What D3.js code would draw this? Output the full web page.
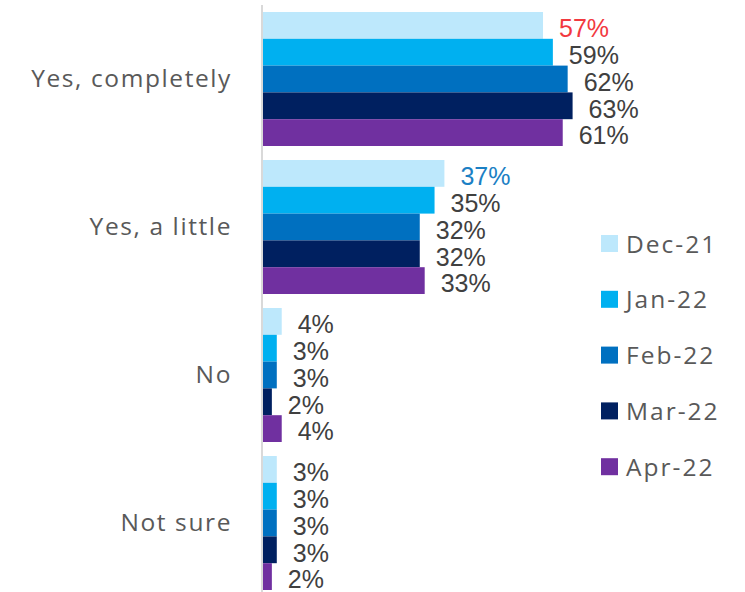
<!DOCTYPE html>
<html>
<head>
<meta charset="utf-8">
<script src="https://cdn.jsdelivr.net/npm/d3@7/dist/d3.min.js"></script>
<style>
  html, body { margin: 0; padding: 0; background: #fff; }
  svg { display: block; }
</style>
</head>
<body>
<svg id="chart" width="745" height="592"></svg>
<script>
// Survey answers and monthly waves
const categories = ["Yes, completely", "Yes, a little", "No", "Not sure"];
const months = ["Dec-21", "Jan-22", "Feb-22", "Mar-22", "Apr-22"];
const dec21 = [57, 37, 4, 3];
const jan22 = [59, 35, 3, 3];
const feb22 = [62, 32, 3, 3];
const mar22 = [63, 32, 2, 3];
const apr22 = [61, 33, 4, 2];
const seriesValues = [dec21, jan22, feb22, mar22, apr22];
const colors = ["#BDE8FC", "#00B0F0", "#0070C0", "#002060", "#7030A0"];

// Highlighted value labels: [category index, month index, colour]
const highlights = [[0, 0, "#F2393F"], [1, 0, "#1B80C4"]];

const svg = d3.select("#chart");
const axisX = 262;

const y0 = d3.scaleBand().domain(categories).range([5, 597]).paddingInner(14 / 148).paddingOuter(7 / 148);
const y1 = d3.scaleBand().domain(months).range([0, y0.bandwidth()]);
const x = d3.scaleLinear().domain([0, 100]).range([axisX, axisX + 493]);

const rows = categories.map((c, i) => ({
  cat: c,
  vals: months.map((m, j) => ({ month: m, value: seriesValues[j][i], ci: i, mi: j }))
}));

const groups = svg.selectAll("g.grp").data(rows).join("g")
  .attr("class", "grp")
  .attr("transform", d => `translate(0,${y0(d.cat)})`);

groups.selectAll("rect").data(d => d.vals).join("rect")
  .attr("x", x(0))
  .attr("y", d => y1(d.month))
  .attr("width", d => x(d.value) - x(0))
  .attr("height", y1.bandwidth())
  .attr("fill", (d, j) => colors[j]);

groups.selectAll("text.val").data(d => d.vals).join("text")
  .attr("class", "val")
  .attr("x", d => x(d.value) + 16)
  .attr("y", d => y1(d.month) + y1.bandwidth() / 2 + 3)
  .attr("dy", "0.35em")
  .attr("font-family", "Liberation Sans, Arial, sans-serif")
  .attr("font-size", 25)
  .attr("fill", d => {
    const h = highlights.find(h => h[0] === d.ci && h[1] === d.mi);
    return h ? h[2] : "#404040";
  })
  .text(d => d.value + "%");

// Category axis
const yAxis = d3.axisLeft(y0).tickSize(0).tickPadding(30);
const ax = svg.append("g").attr("transform", `translate(${axisX},0)`).call(yAxis);
ax.select(".domain").remove();
ax.selectAll("text")
  .attr("font-family", "Open Sans, sans-serif")
  .attr("font-size", 24.5)
  .attr("letter-spacing", 1.6)
  .attr("fill", "#595959");

svg.append("line")
  .attr("x1", axisX).attr("x2", axisX)
  .attr("y1", 5).attr("y2", 592)
  .attr("stroke", "#D9D9D9").attr("stroke-width", 2);

// Legend
const legend = svg.append("g").attr("transform", "translate(601,244)");
const li = legend.selectAll("g").data(months).join("g")
  .attr("transform", (d, i) => `translate(0,${i * 55.8})`);
li.append("rect").attr("x", 0).attr("y", -9).attr("width", 17).attr("height", 17)
  .attr("fill", (d, i) => colors[i]);
li.append("text").attr("x", 25).attr("y", 0).attr("dy", "0.35em")
  .attr("font-family", "Open Sans, sans-serif")
  .attr("font-size", 24.5)
  .attr("letter-spacing", 2)
  .attr("fill", "#595959")
  .text(d => d);
</script>
</body>
</html>
